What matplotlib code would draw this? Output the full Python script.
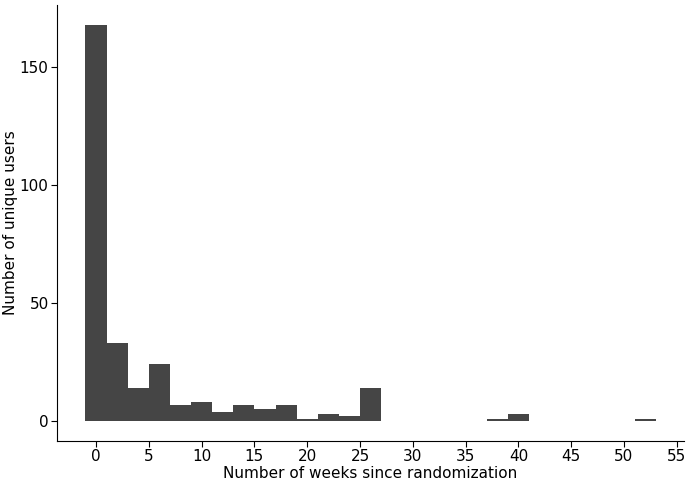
import matplotlib
matplotlib.use("Agg")
import matplotlib.pyplot as plt

weeks = [0, 2, 4, 6, 8, 10, 12, 14, 16, 18, 20, 22, 24, 26, 38, 40, 52]
users = [168, 33, 14, 24, 7, 8, 4, 7, 5, 7, 1, 3, 2, 14, 1, 3, 1]
xticks = list(range(0, 56, 5))
yticks = [0, 50, 100, 150]

fig = plt.figure(figsize=(6.89, 4.84), dpi=100)
ax = fig.add_axes([0.0827, 0.089, 0.9103, 0.901])
ax.bar(weeks, users, width=2, color="#454545", align="center")
ax.set_xlim(-3.7, 55.7)
ax.set_ylim(-8.4, 176.4)
ax.set_xticks(xticks)
ax.set_yticks(yticks)
for s in ["top", "right"]:
    ax.spines[s].set_visible(False)
ax.tick_params(labelsize=11, colors="black", length=4, pad=2)
ax.set_xlabel("Number of weeks since randomization", fontsize=11, labelpad=1)
ax.set_ylabel("Number of unique users", fontsize=11, labelpad=1)
fig.savefig("out.png", dpi=100)
